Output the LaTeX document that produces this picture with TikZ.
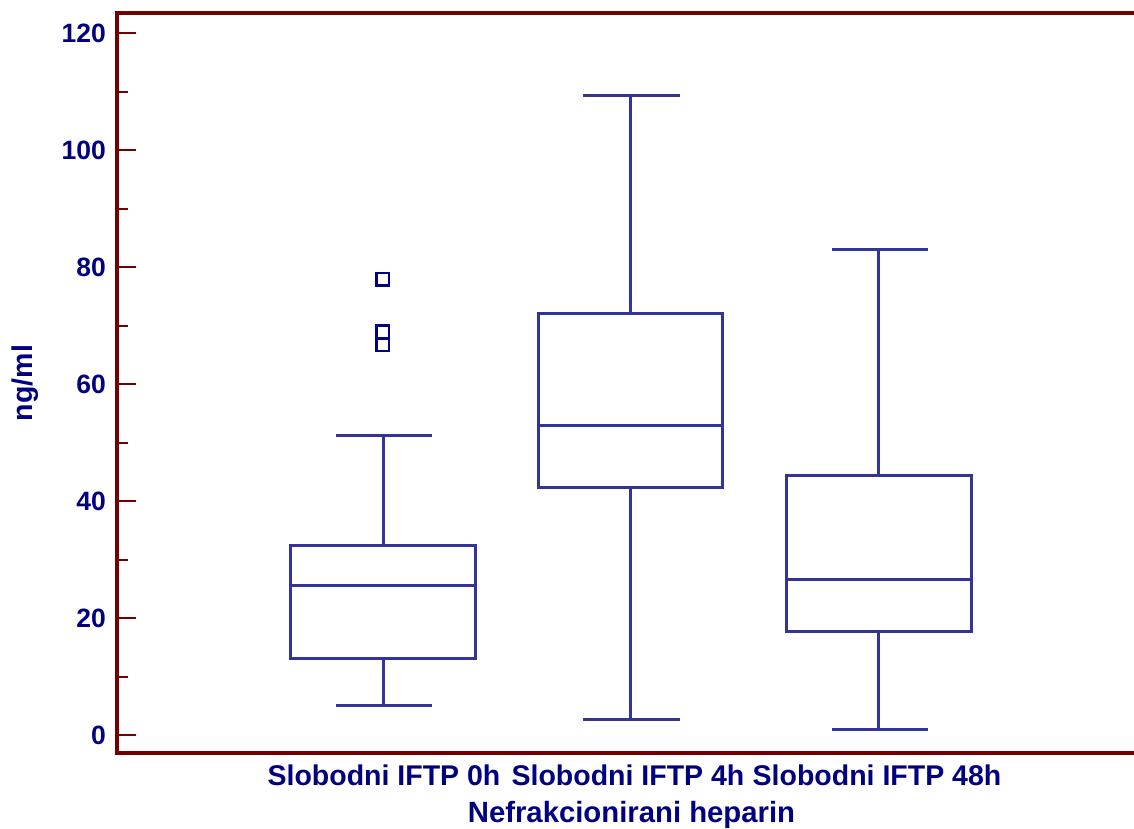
\documentclass[tikz,border=0pt]{standalone}
\usepackage{fontspec}
\setmainfont{Liberation Sans}
\definecolor{axred}{RGB}{115,0,0}
\definecolor{boxblue}{RGB}{51,51,153}
\definecolor{txtnavy}{RGB}{0,0,128}
\begin{document}
\begin{tikzpicture}[x=1pt,y=-1pt,
  axis/.style={draw=axred,line width=4pt},
  majtick/.style={draw=axred,line width=1.8pt},
  bx/.style={draw=boxblue,line width=3pt},
  outl/.style={draw=txtnavy,line width=2.4pt},
  ticklbl/.style={text=txtnavy,anchor=east,inner sep=0pt,font=\bfseries\fontsize{26.5}{30}\selectfont},
  catlbl/.style={text=txtnavy,inner sep=0pt,font=\bfseries\fontsize{28.5}{32}\selectfont},
  titlbl/.style={text=txtnavy,inner sep=0pt,font=\bfseries\fontsize{29.3}{34}\selectfont}]
\useasboundingbox (0,0) rectangle (1134,829);
% axes
\draw[axis] (117,753.3) -- (1134,753.3);
\draw[axis] (1134,13.5) -- (117,13.5) -- (117,755.3);
% ticks
\foreach \v in {0,20,...,120}{
  \draw[majtick] (119,{735.3-5.85*\v}) -- (136,{735.3-5.85*\v});
  \node[ticklbl] (t\v) at (106,{735.3-5.85*\v}) {\v};
}
\foreach \v in {10,30,...,110}{
  \draw[majtick] (119,{735.3-5.85*\v}) -- (128,{735.3-5.85*\v});
}
% y label
\node[catlbl,rotate=90] (ylab) at (25,383) {ng/ml};
% box 1
\draw[bx] (290.7,545.3) rectangle (475,658.7);
\draw[bx] (290.7,585.7) -- (475,585.7);
\draw[bx] (383,545.3) -- (383,435.3);
\draw[bx] (383,658.7) -- (383,705.3);
\draw[bx] (335.7,435.3) -- (432.3,435.3);
\draw[bx] (335.7,705.3) -- (432.3,705.3);
\foreach \yy in {279.3,331.7,345}{
  \draw[outl] (376.6,\yy-6.2) rectangle (389,\yy+6.2);
}
% box 2
\draw[bx] (538.5,313) rectangle (722.9,487);
\draw[bx] (538.5,425) -- (722.9,425);
\draw[bx] (630.7,313) -- (630.7,95.3);
\draw[bx] (630.7,487) -- (630.7,719.3);
\draw[bx] (583.3,95.3) -- (680.3,95.3);
\draw[bx] (583.3,719.3) -- (680.3,719.3);
% box 3
\draw[bx] (786.7,475.7) rectangle (971,631.3);
\draw[bx] (786.7,579.3) -- (971,579.3);
\draw[bx] (878.7,475.7) -- (878.7,249.3);
\draw[bx] (878.7,631.3) -- (878.7,729);
\draw[bx] (831.7,249.3) -- (927.7,249.3);
\draw[bx] (831.7,729) -- (927.7,729);
% category labels
\node[catlbl] (c1) at (384,775) {Slobodni IFTP 0h};
\node[catlbl] (c2) at (628,775) {Slobodni IFTP 4h};
\node[catlbl] (c3) at (877,775) {Slobodni IFTP 48h};
\node[titlbl] (xlab) at (631.5,815) {Nefrakcionirani heparin};
\end{tikzpicture}
\end{document}
